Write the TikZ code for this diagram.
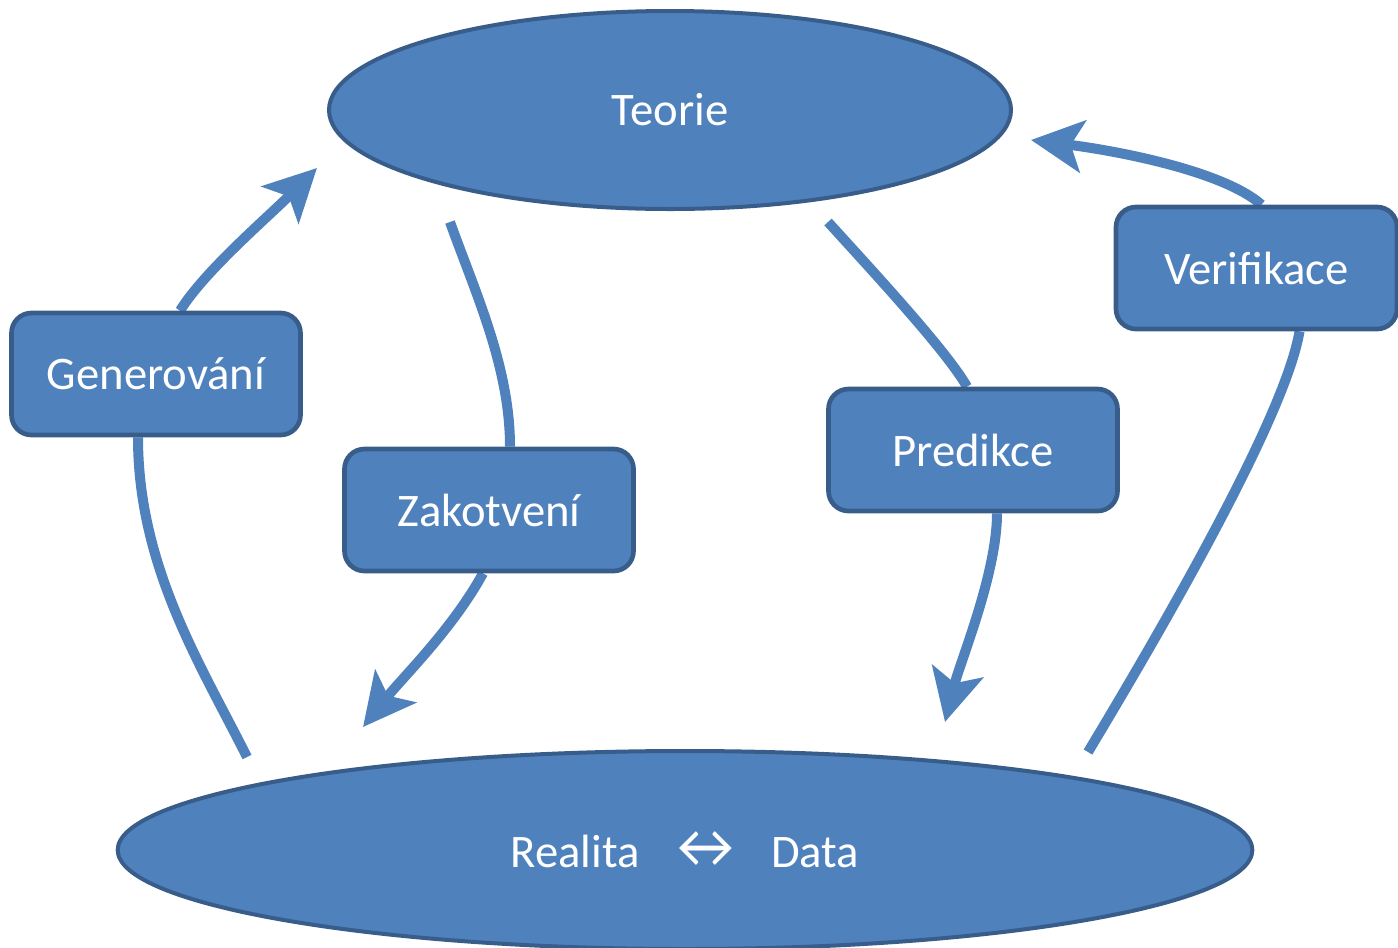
\documentclass[tikz,border=0pt]{standalone}
\usepackage{fontspec}
\setmainfont{Carlito}
\usetikzlibrary{arrows.meta,shapes.geometric,calc,backgrounds}
\definecolor{boxblue}{HTML}{4F81BD}
\definecolor{edgeblue}{HTML}{385D8A}

\begin{document}
\begin{tikzpicture}[x=0.75pt,y=-0.75pt,
    bubble/.style={ellipse, fill=boxblue, draw=edgeblue, line width=3pt,
        inner sep=0pt, text=white, font=\fontsize{35}{42}\selectfont},
    stepbox/.style={rectangle, rounded corners=15pt, fill=boxblue, draw=edgeblue,
        line width=3.5pt, minimum width=216.75pt, minimum height=91.5pt,
        text=white, font=\fontsize{35}{42}\selectfont},
    flow/.style={draw=boxblue, line width=7.5pt},
    flowarrow/.style={flow, -{Stealth[length=39pt,width=39pt,inset=9pt]}}]
    \useasboundingbox (0,0) rectangle (1398,947);

    % Theory and reality
    \node[bubble, minimum width=511.5pt, minimum height=148.5pt] (teorie) at (670,110) {Teorie};
    \node[bubble, minimum width=851pt, minimum height=148.5pt] (realita) at (685,850)
        {Realita\hspace{19pt}{\fontsize{47}{42}\selectfont ↔}\hspace{19pt}Data};

    % Steps
    \node[stepbox] (gen) at (156,374) {Generování};
    \node[stepbox] (zak) at (489,510) {Zakotvení};
    \node[stepbox] (pred) at (973,450) {Predikce};
    \node[stepbox, minimum width=210.75pt] (verif) at (1256.5,268) {Verifikace};

    % Free ends of the arrows
    \coordinate (genfrom) at (247,757);
    \coordinate (gento) at (317,168);
    \coordinate (zakfrom) at (450,222);
    \coordinate (zakto) at (363,727);
    \coordinate (predfrom) at (828,222);
    \coordinate (predto) at (945,722);
    \coordinate (veriffrom) at (1088,752);
    \coordinate (verifto) at (1031,140);

    \begin{scope}[on background layer]
        % Generování
        \draw[flow] (genfrom) .. controls +(-45,-90) and +(0,130) .. ($(gen.south)+(-18,0)$);
        \draw[flowarrow] ($(gen.north)+(24,0)$) .. controls +(25,-40) and +(-50,50) .. (gento);
        % Zakotvení
        \draw[flow] (zakfrom) .. controls +(25,70) and +(0,-80) .. ($(zak.north)+(21,0)$);
        \draw[flowarrow] ($(zak.south)+(-6,0)$) .. controls +(-30,55) and +(40,-50) .. (zakto);
        % Predikce
        \draw[flow] (predfrom) .. controls +(50,55) and +(-20,-35) .. ($(pred.north)+(-6,0)$);
        \draw[flowarrow] ($(pred.south)+(24,0)$) .. controls +(0,60) and +(15,-60) .. (predto);
        % Verifikace
        \draw[flow] (veriffrom) .. controls +(60,-100) and +(-15,90) .. ($(verif.south)+(43,0)$);
        \draw[flowarrow] ($(verif.north)+(5,0)$) .. controls +(-40,-35) and +(80,10) .. (verifto);
    \end{scope}
\end{tikzpicture}
\end{document}
